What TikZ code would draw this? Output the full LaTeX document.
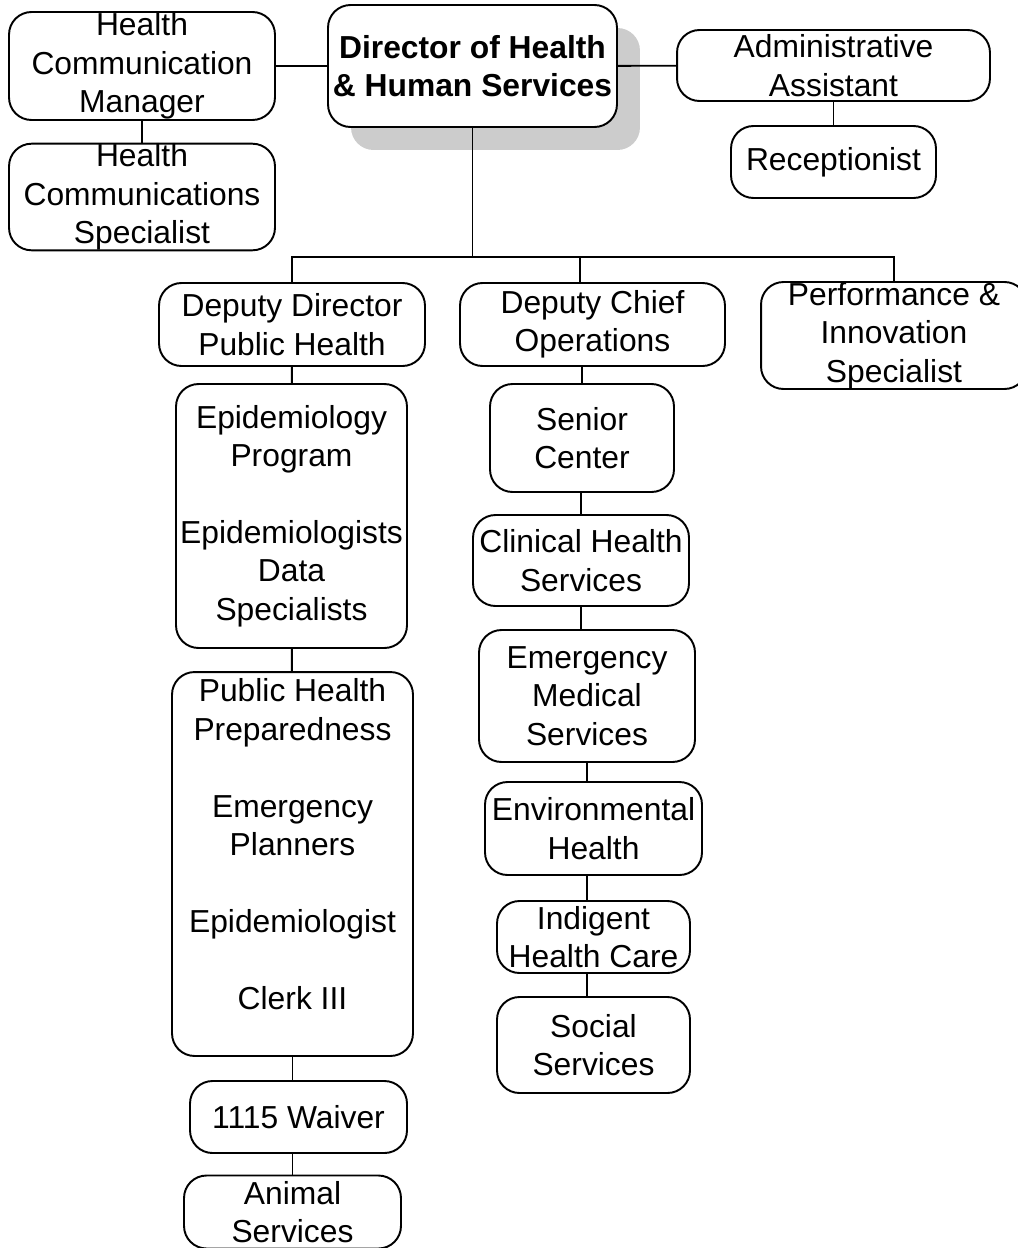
\documentclass[tikz,border=0pt]{standalone}
\usepackage{fontspec}
\setmainfont{Liberation Sans}
\usetikzlibrary{positioning, shadows}

\begin{document}
\begin{tikzpicture}[x=0.02cm, y=-0.02cm, line width=1.1pt,
    wh/.style 2 args={minimum width=#1cm, minimum height=#2cm}]
    \tikzstyle{every node}=[font=\fontsize{18.1}{21.9}\selectfont]
    \tikzstyle{unit}=[draw, fill=white, rounded corners=0.45cm, align=center, inner sep=0pt]
    \tikzstyle{head}=[unit, font=\fontsize{18.1}{21.9}\selectfont\bfseries,
        drop shadow={shadow xshift=0.46cm, shadow yshift=-0.46cm, fill=gray!40, opacity=1}]

    \useasboundingbox (0,0) rectangle (1018,1248);

    % director and staff
    \node[head, wh={5.78}{2.44}] (dir) at (472.5,66) {Director of Health\\\& Human Services};
    \node[unit, wh={5.32}{2.16}] (hcm) at (142,66) {Health\\Communication\\Manager};
    \node[unit, wh={5.32}{2.12}] (hcs) at (142,197) {Health\\Communications\\Specialist};
    \node[unit, wh={6.26}{1.42}] (adm) at (833.5,65.5) {Administrative\\Assistant};
    \node[unit, wh={4.1}{1.44}]  (rec) at (833.5,162) {Receptionist};

    % deputies
    \node[unit, wh={5.32}{1.66}] (ddph) at (292,324.5) {Deputy Director\\Public Health};
    \node[unit, wh={5.3}{1.66}]  (dco)  at (592.5,324.5) {Deputy Chief\\Operations};
    \node[unit, wh={5.32}{2.14}] (pis)  at (894,335.5) {Performance \&\\Innovation\\Specialist};

    % public health
    \node[unit, wh={4.62}{5.28}] (epi) at (291.5,516)
        {Epidemiology\\Program\\[21.9pt]Epidemiologists\\Data\\Specialists};
    \node[unit, wh={4.82}{7.68}] (php) at (292.5,864)
        {Public Health\\Preparedness\\[21.9pt]Emergency\\Planners\\[21.9pt]Epidemiologist\\[21.9pt]Clerk III\rule[-22.7pt]{0pt}{22.7pt}};
    \node[unit, wh={4.34}{1.44}] (wai) at (298.5,1117) {1115 Waiver};
    \node[unit, wh={4.34}{1.46}] (ani) at (292.5,1212) {Animal\\Services};

    % operations
    \node[unit, wh={3.68}{2.16}] (sen) at (582,438) {Senior\\Center};
    \node[unit, wh={4.32}{1.82}] (cli) at (581,560.5) {Clinical Health\\Services};
    \node[unit, wh={4.32}{2.64}] (ems) at (587,696) {Emergency\\Medical\\Services};
    \node[unit, wh={4.34}{1.86}] (env) at (593.5,828.5) {Environmental\\Health};
    \node[unit, wh={3.86}{1.44}] (ind) at (593.5,937) {Indigent\\Health Care};
    \node[unit, wh={3.86}{1.92}] (soc) at (593.5,1045) {Social\\Services};

    \coordinate (bus) at (472.5,257);
    \coordinate (opsx) at (580,0);
    \coordinate (spine) at (587,0);

    \path (hcm) edge (dir)
          (dir) edge (adm)
          (hcm) edge (hcs)
          (adm) edge (rec)
          (ddph) edge (epi)
          (epi) edge (php);

    % reporting bus
    \draw (dir.south) -- (bus);
    \draw (ddph.north) -- (ddph.north |- bus) -- (pis.north |- bus) -- (pis.north);
    \draw (dco.north -| opsx) -- (bus -| opsx);

    \draw (php.south) -- (php.south |- wai.north);
    \draw (ani.north) -- (ani.north |- wai.south);

    \draw (sen.north) -- (sen.north |- dco.south);
    \draw (cli.north) -- (cli.north |- sen.south);
    \draw (cli.south) -- (cli.south |- ems.north);
    \draw (ems.south) -- (ems.south |- env.north);
    \draw (env.south -| spine) -- (ind.north -| spine);
    \draw (ind.south -| spine) -- (soc.north -| spine);
\end{tikzpicture}
\end{document}
